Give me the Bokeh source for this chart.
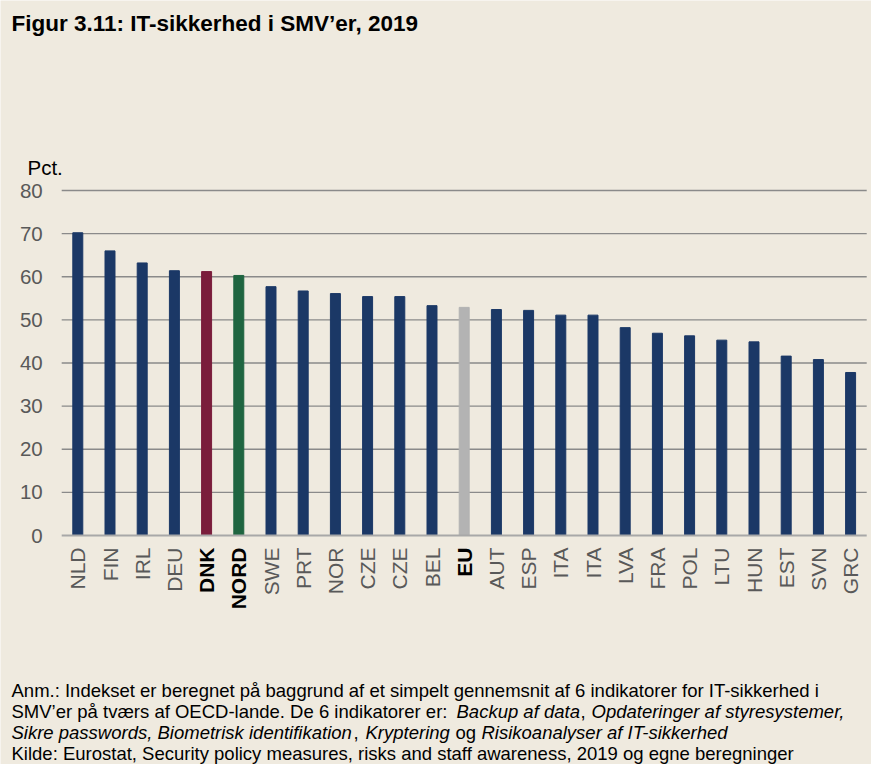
import numpy as np
from bokeh.plotting import figure
from bokeh.models import ColumnDataSource, Range1d, Label
from bokeh.core.properties import value
from bokeh.embed import file_html
from bokeh.resources import INLINE

# ---- data ----
countries = ["NLD", "FIN", "IRL", "DEU", "DNK", "NORD", "SWE", "PRT", "NOR", "CZE", "CZE", "BEL", "EU",
             "AUT", "ESP", "ITA", "ITA", "LVA", "FRA", "POL", "LTU", "HUN", "EST", "SVN", "GRC"]
index_values = [70.2, 66.0, 63.2, 61.4, 61.2, 60.3, 57.7, 56.7, 56.1, 55.4, 55.4, 53.3, 52.9,
                52.4, 52.2, 51.1, 51.1, 48.2, 46.9, 46.3, 45.3, 44.9, 41.6, 40.8, 37.8]
highlight_colors = {"DNK": "#7A1D3B", "NORD": "#1F6540", "EU": "#B3B3B3"}
y_ticks = [0, 10, 20, 30, 40, 50, 60, 70, 80]
y_tick_labels = [str(t) for t in y_ticks]

title_text = "Figur 3.11: IT-sikkerhed i SMV’er, 2019"
unit_text = "Pct."
notes = [
    [("Anm.: Indekset er beregnet på baggrund af et simpelt gennemsnit af 6 indikatorer for IT-sikkerhed i", 11, "normal")],
    [("SMV’er på tværs af OECD-lande. De 6 indikatorer er: ", 11, "normal"),
     ("Backup af data", 456, "italic"),
     (",", 580, "normal"),
     ("Opdateringer af styresystemer,", 591, "italic")],
    [("Sikre passwords, Biometrisk identifikation", 11, "italic"),
     (",", 353, "normal"),
     ("Kryptering", 365, "italic"),
     ("og", 455, "normal"),
     ("Risikoanalyser af IT-sikkerhed", 481, "italic")],
    [("Kilde: Eurostat, Security policy measures, risks and staff awareness, 2019 og egne beregninger", 11, "normal")],
]

W, H = 871, 764
BG = "#EFEADF"
NAVY = "#1B3866"
FONT = "Liberation Sans"
GREY_TXT = "#595959"

n = len(countries)
bar_colors = [highlight_colors.get(c, NAVY) for c in countries]
label_colors = ["#000000" if c in highlight_colors else GREY_TXT for c in countries]
label_styles = ["bold" if c in highlight_colors else "normal" for c in countries]

src = ColumnDataSource(dict(x=list(range(n)), top=index_values, cat=countries,
                            color=bar_colors, lcolor=label_colors, lstyle=label_styles,
                            base=[0] * n))

# scale: category spacing ~32.2 px, first bar centre at x=77 px; 4.3125 px per pct, 0 at y=535 px
XPX, X0 = 32.2, 77.3
YPX, Y0 = 4.3125, 535.0
x_range = Range1d(-X0 / XPX, (W - X0) / XPX)
y_range = Range1d(-(H - Y0) / YPX, Y0 / YPX)

p = figure(width=W, height=H, output_backend="svg", toolbar_location=None, title=None,
           x_range=x_range, y_range=y_range,
           min_border_left=0, min_border_right=0, min_border_top=0, min_border_bottom=0,
           x_axis_location=None, y_axis_location=None)
p.background_fill_color = BG
p.border_fill_color = BG
p.outline_line_color = None
p.grid.visible = False

# gridlines across the category span
grid_src = ColumnDataSource(dict(y=y_ticks[1:], x0=[-0.5] * (len(y_ticks) - 1), x1=[n - 0.5] * (len(y_ticks) - 1)))
p.segment(x0="x0", x1="x1", y0="y", y1="y", source=grid_src, line_color="#8A8A8A", line_width=1.3)

p.vbar(x="x", top="top", bottom="base", width=0.31, color="color", source=src)

# baseline at 0
p.segment(x0=[-0.5], x1=[n - 0.5], y0=[y_ticks[0]], y1=[y_ticks[0]], line_color="#A8A8A8", line_width=2)

# y tick labels
tick_src = ColumnDataSource(dict(y=y_ticks, t=y_tick_labels, x=[-0.5] * len(y_ticks)))
p.text(x="x", y="y", text="t", source=tick_src, x_offset=-19, text_align="right",
       text_baseline="middle", text_font=value(FONT), text_font_size="20.5px", text_color=GREY_TXT)

# category labels
p.text(x="x", y="base", text="cat", source=src, angle=np.pi / 2, y_offset=12,
       text_align="right", text_baseline="middle", text_font=value(FONT),
       text_font_size="21px", text_color="lcolor", text_font_style="lstyle")


def add_text(txt, px, py, size, style="normal", color="#000000", baseline="top"):
    # frame covers the whole canvas: screen units from the frame's bottom-left corner
    p.add_layout(Label(x=px, y=H - py, x_units="screen", y_units="screen", text=txt,
                       text_font=FONT, text_font_size=size, text_font_style=style,
                       text_color=color, text_baseline=baseline, text_align="left"))


add_text(title_text, 11, 10, "22.5px", "bold")
add_text(unit_text, 27, 155, "20.5px")
for i, line in enumerate(notes):
    for txt, px, style in line:
        add_text(txt, px, 690 + 21 * i, "18.5px", style, baseline="alphabetic")

open("out.html", "w").write(file_html(p, INLINE))
